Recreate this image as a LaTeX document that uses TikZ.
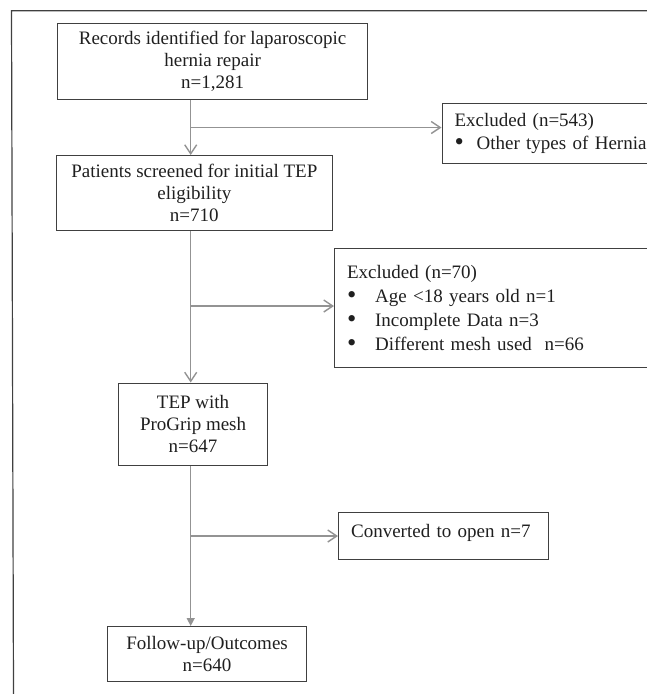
\documentclass[tikz,border=0pt]{standalone}
\usepackage{fontspec}
\setmainfont{Liberation Serif}
\usetikzlibrary{arrows.meta}
\definecolor{boxgray}{HTML}{404040}
\definecolor{linegray}{HTML}{939393}
\newcommand{\itemline}[2][28pt]{\makebox[#1][l]{\raisebox{-1pt}{\scalebox{1.4}{\textbullet}}}\mbox{#2}}
\begin{document}
\begin{tikzpicture}
[x=1pt,y=-1pt,
  boxdecorate/.style={shape=rectangle,draw=boxgray,line width=1.2pt,anchor=north west,
    inner sep=0pt,align=center,text=black!88,font={\fontsize{19}{22}\selectfont}},%
  sidedecorate/.style={boxdecorate,align=left,inner xsep=12.5pt},%
  linedecorate/.style={draw=linegray,line width=1.4pt,-{Straight Barb[length=9pt,width=12pt]}},%
  enddecorate/.style={draw=linegray,line width=1.4pt,-{Triangle[length=8pt,width=8pt]}}]
\useasboundingbox (0,0) rectangle (647,694);
%% outer frame
\draw[boxgray,line width=1.2pt] (647,10.7) -- (11.5,10.7) -- (13.5,694);
%% main boxes
\foreach \nodename/\x/\y/\w/\h/\nodetext in {
  records/57/23/310/76/{Records identified for laparoscopic\\hernia repair\\n=1,281},
  screened/56/155/275.5/75/{Patients screened for initial TEP\\eligibility\\n=710},
  progrip/118/382.5/149/82.5/{TEP with\\ProGrip mesh\\n=647},
  outcomes/107/626/199/55/{Follow-up/Outcomes\\n=640}}
{
  \node (\nodename) at (\x,\y) [boxdecorate,minimum width=\w,minimum height=\h] {\nodetext};
}
%% side boxes
\foreach \nodename/\x/\y/\w/\h/\nodetext in {
  excluded1/441.5/103/205/60/{Excluded (n=543)\\[0.5pt]\itemline[22pt]{Other types of Hernia}},
  excluded2/334/248/312.5/119/{Excluded (n=70)\\[2pt]\itemline{Age <18 years old n=1}\\[2pt]
    \itemline{Incomplete Data n=3}\\[2pt]\itemline{Different mesh used\ \ n=66}},
  converted/338/512/210/47/{Converted to open n=7\\[-11pt]\mbox{}}}
{
  \pgfmathsetmacro\textw{\w-25}
  \node (\nodename) at (\x,\y) [sidedecorate,minimum width=\w,minimum height=\h,
    text width=\textw pt] {\nodetext};
}
%% split points
\coordinate (spine) at (190.7,0);
\coordinate (split1) at (190.7,127.5);
\coordinate (split2) at (190.7,306);
\coordinate (split3) at (190.7,536);
%% connectors
\path
\foreach \startnode/\endnode in {
  records.south -| spine/screened.north -| spine,
  split1/split1 -| excluded1.west,
  screened.south -| spine/progrip.north -| spine,
  split2/split2 -| excluded2.west,
  split3/split3 -| converted.west} {
  (\startnode) edge[linedecorate] (\endnode)
};
\path (progrip.south -| spine) edge[enddecorate] (outcomes.north -| spine);
\end{tikzpicture}
\end{document}
